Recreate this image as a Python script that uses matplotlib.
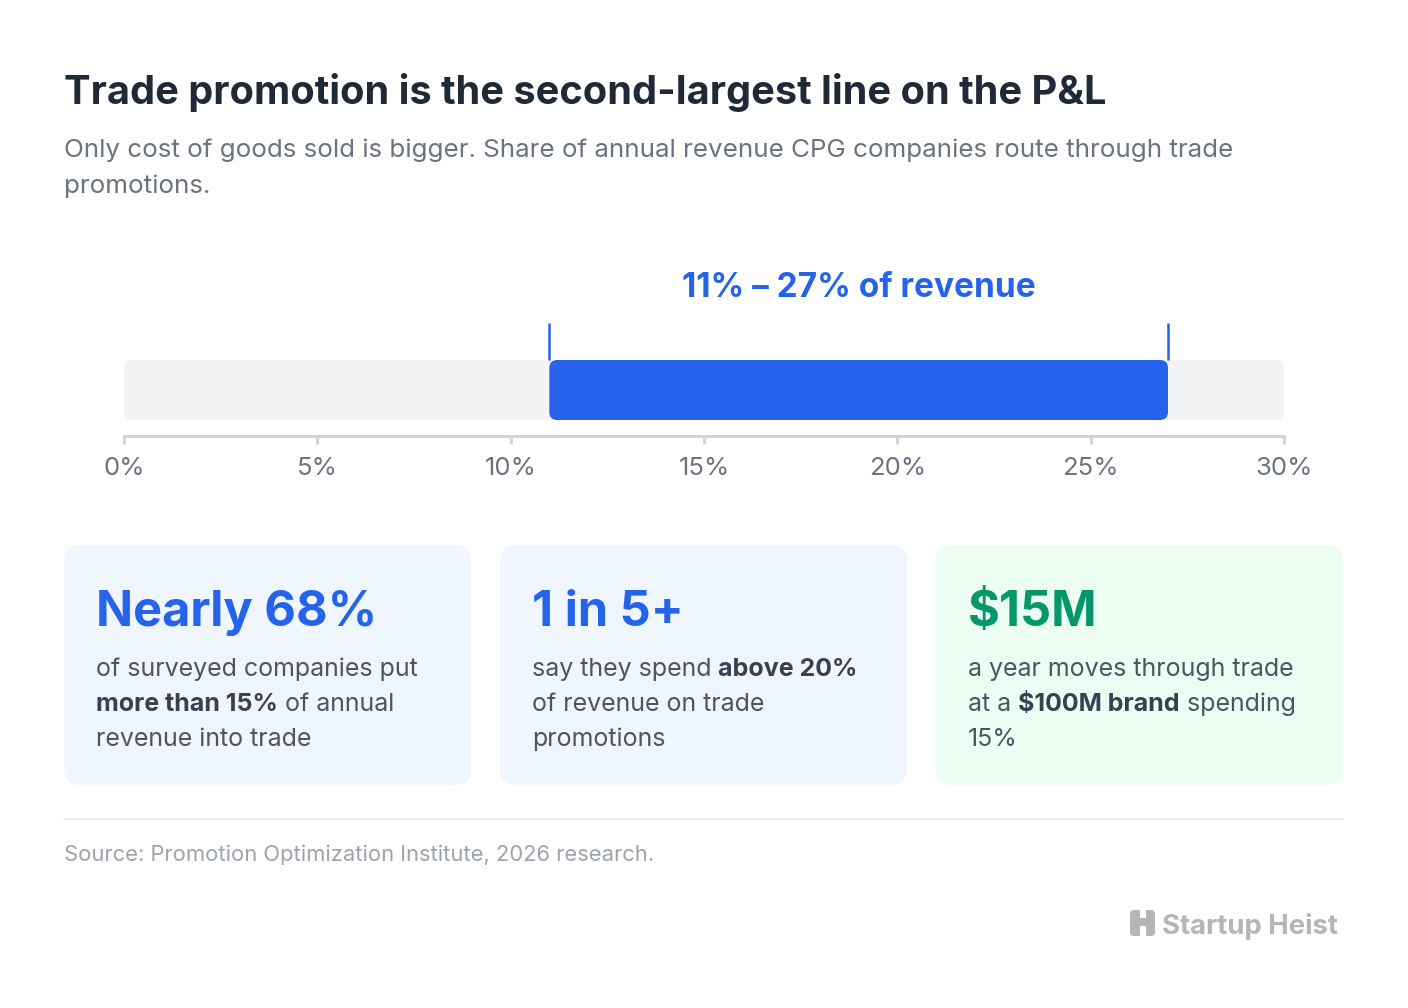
import matplotlib
matplotlib.use("Agg")
import matplotlib.pyplot as plt
from matplotlib.patches import FancyBboxPatch, Rectangle

plt.rcParams['font.family'] = ['Inter', 'DejaVu Sans']

# data
range_low = 11
range_high = 27
axis_max = 30
ticks = [0, 5, 10, 15, 20, 25, 30]
tick_labels = [f"{t}%" for t in ticks]
range_label = "11% – 27% of revenue"

card_stats = ["Nearly 68%", "1 in 5+", "$15M"]
card_lines = [
    [[("of surveyed companies put", "normal")],
     [("more than 15%", "bold"), (" of annual", "normal")],
     [("revenue into trade", "normal")]],
    [[("say they spend ", "normal"), ("above 20%", "bold")],
     [("of revenue on trade", "normal")],
     [("promotions", "normal")]],
    [[("a year moves through trade", "normal")],
     [("at a ", "normal"), ("$100M brand", "bold"), (" spending", "normal")],
     [("15%", "normal")]],
]
card_colors = ["#eff6ff", "#eff6ff", "#ecfdf3"]
stat_colors = ["#2563eb", "#2563eb", "#059669"]

title = "Trade promotion is the second-largest line on the P&L"
subtitle = ["Only cost of goods sold is bigger. Share of annual revenue CPG companies route through trade",
            "promotions."]
source = "Source: Promotion Optimization Institute, 2026 research."

W, H = 1408, 1008
fig = plt.figure(figsize=(W / 100, H / 100), dpi=100)
fig.patch.set_facecolor("white")

# full-figure layer in pixel coordinates for layout pieces
lay = fig.add_axes([0, 0, 1, 1])
lay.set_xlim(0, W)
lay.set_ylim(H, 0)
lay.axis("off")

lay.text(64, 104, title, fontsize=28.6, fontweight="bold", color="#1f2937", va="baseline")
for i, line in enumerate(subtitle):
    lay.text(64, 157 + i * 36, line, fontsize=18.7, color="#6b7280", va="baseline")

# range bar axes
ax = fig.add_axes([124 / W, (H - 436) / H, 1160 / W, 120 / H])
ax.set_xlim(0, axis_max)
ax.set_ylim(0, 1.2)
ax.patch.set_alpha(0)
for s in ["top", "left", "right"]:
    ax.spines[s].set_visible(False)
ax.spines["bottom"].set_color("#d1d5db")
ax.spines["bottom"].set_linewidth(2.2)
ax.set_yticks([])
ax.set_xticks(ticks)
ax.set_xticklabels(tick_labels, fontsize=18.5, color="#6b7280")
ax.tick_params(axis="x", length=6, width=2.2, color="#d1d5db", pad=9)

px_x = 1160 / axis_max
px_y = 100
aspect = px_x / px_y
r = 8 / px_x
ax.add_patch(FancyBboxPatch((0, 0.16), axis_max, 0.6,
                            boxstyle=f"round,pad=0,rounding_size={r}",
                            mutation_aspect=aspect, fc="#f3f4f6", ec="none", zorder=1))
ax.add_patch(FancyBboxPatch((range_low, 0.16), range_high - range_low, 0.6,
                            boxstyle=f"round,pad=0,rounding_size={r}",
                            mutation_aspect=aspect, fc="#2563eb", ec="none", zorder=2))
for v in [range_low, range_high]:
    ax.plot([v, v], [0.76, 1.13], color="#2563eb", lw=1.8, solid_capstyle="butt", zorder=3)
ax.text((range_low + range_high) / 2, 1.39, range_label, fontsize=24, fontweight="bold",
        color="#2563eb", ha="center", va="baseline", clip_on=False)

# cards
fig.canvas.draw()
renderer = fig.canvas.get_renderer()
card_x = [64, 500, 936]
card_w = 407
for i in range(3):
    x0 = card_x[i]
    lay.add_patch(FancyBboxPatch((x0, 545), card_w, 240,
                                 boxstyle="round,pad=0,rounding_size=16",
                                 fc=card_colors[i], ec="none"))
    lay.text(x0 + 32, 626, card_stats[i], fontsize=35.1, fontweight="bold",
             color=stat_colors[i], va="baseline")
    for j, runs in enumerate(card_lines[i]):
        xpos = x0 + 32
        for txt, wt in runs:
            t = lay.text(xpos, 676 + j * 35, txt, fontsize=18, fontweight=wt,
                         color="#374151" if wt == "bold" else "#4b5563", va="baseline")
            bb = t.get_window_extent(renderer)
            xpos += bb.width

# divider and source
lay.plot([64, 1343], [819, 819], color="#e5e7eb", lw=1.2)
lay.text(64, 861, source, fontsize=15.8, color="#9ca3af", va="baseline")

# logo
logo_c = "#b5b5b5"
lay.add_patch(FancyBboxPatch((1130, 910), 25, 26, boxstyle="round,pad=0,rounding_size=4",
                             fc=logo_c, ec="none"))
lay.add_patch(Rectangle((1139.5, 910), 6, 8, fc="white", ec="none"))
lay.add_patch(Rectangle((1139.5, 926), 6, 10, fc="white", ec="none"))
lay.text(1338, 934, "Startup Heist", fontsize=19.8, fontweight="bold", color=logo_c,
         ha="right", va="baseline")

fig.savefig("out.png", dpi=100, facecolor="white")
